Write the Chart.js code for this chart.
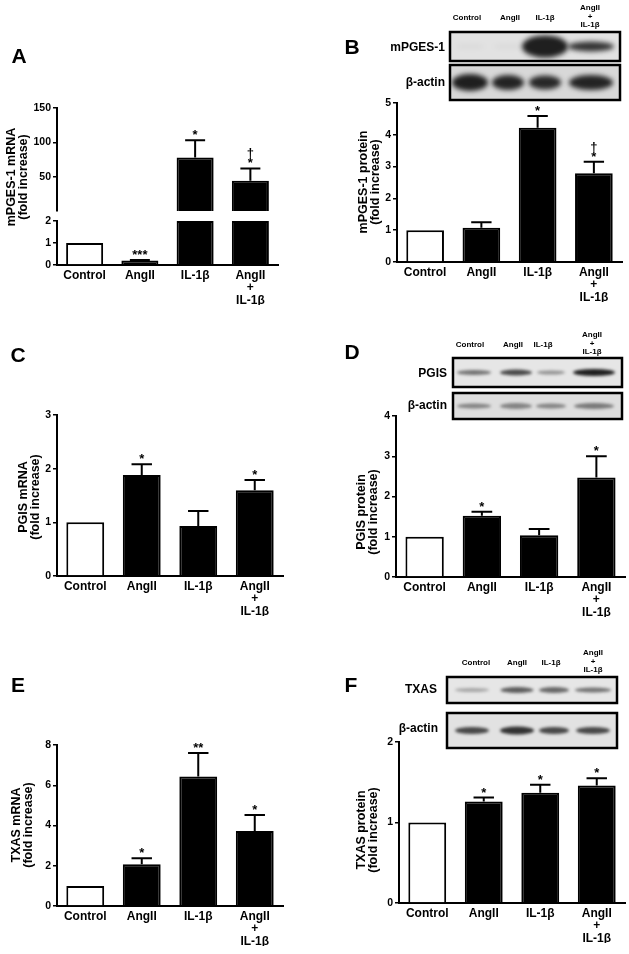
<!DOCTYPE html>
<html>
<head>
<meta charset="utf-8">
<script src="https://cdn.jsdelivr.net/npm/chart.js@4.4.1/dist/chart.umd.min.js"></script>
<style>
body { margin: 0; background: #fff; }
#fig { position: relative; width: 629px; height: 954px; font-family: "Liberation Sans", Arial, sans-serif; font-weight: bold; color: #000; }
#fig canvas { position: absolute; left: 0; top: 0; }
.t { position: absolute; white-space: nowrap; line-height: 1; }
</style>
</head>
<body>
<div id="fig">
  <canvas id="cA1" width="629" height="954"></canvas>
  <canvas id="cA2" width="629" height="954"></canvas>
  <canvas id="cB" width="629" height="954"></canvas>
  <canvas id="cC" width="629" height="954"></canvas>
  <canvas id="cD" width="629" height="954"></canvas>
  <canvas id="cE" width="629" height="954"></canvas>
  <canvas id="cF" width="629" height="954"></canvas>
  <canvas id="blots" width="629" height="954"></canvas>
</div>
<script>
// groups on the x axis (last one is the combined treatment)
var groups = ['Control', 'AngII', 'IL-1β', ['AngII', '+', 'IL-1β']];

// A: mPGES-1 mRNA (axis broken at 2)
var mpgesMrna = [1, 0.2, 78, 44];
var mpgesMrnaErr = [0, 0.03, 25, 18];
var mpgesMrnaSig = ['', '***', '*', '†\n*'];
// B: mPGES-1 protein
var mpgesProtein = [1, 1.08, 4.22, 2.79];
var mpgesProteinErr = [0, 0.17, 0.37, 0.36];
var mpgesProteinSig = ['', '', '*', '†\n*'];
// C: PGIS mRNA
var pgisMrna = [1, 1.88, 0.93, 1.6];
var pgisMrnaErr = [0, 0.2, 0.28, 0.19];
var pgisMrnaSig = ['', '*', '', '*'];
// D: PGIS protein
var pgisProtein = [1, 1.52, 1.04, 2.47];
var pgisProteinErr = [0, 0.1, 0.15, 0.53];
var pgisProteinSig = ['', '*', '', '*'];
// E: TXAS mRNA
var txasMrna = [1, 2.07, 6.43, 3.73];
var txasMrnaErr = [0, 0.3, 1.17, 0.79];
var txasMrnaSig = ['', '*', '**', '*'];
// F: TXAS protein
var txasProtein = [1, 1.26, 1.37, 1.46];
var txasProteinErr = [0, 0.05, 0.1, 0.09];
var txasProteinSig = ['', '*', '*', '*'];

// y tick labels
var breakAt = 2;
var ticksMpgesMrnaHigh = [50, 100, 150];
var ticksMpgesMrnaLow = [0, 1, 2];
var ticksMpgesProtein = [0, 1, 2, 3, 4, 5];
var ticksPgisMrna = [0, 1, 2, 3];
var ticksPgisProtein = [0, 1, 2, 3, 4];
var ticksTxasMrna = [0, 2, 4, 6, 8];
var ticksTxasProtein = [0, 1, 2];

var FONT = '"Liberation Sans", Arial, sans-serif';
Chart.defaults.font.family = FONT;
Chart.defaults.color = '#000';

// one-sided error bars + significance marks above them
var errorBars = {
  id: 'errorBars',
  afterDatasetsDraw: function (chart) {
    var ctx = chart.ctx;
    chart.data.datasets.forEach(function (ds, i) {
      var meta = chart.getDatasetMeta(i);
      var y = chart.scales[meta.yAxisID];
      meta.data.forEach(function (bar, j) {
        var v = ds.data[j];
        if (v == null) return;
        var err = ds.errors[j] || 0;
        var yTop = y.getPixelForValue(v + err);
        ctx.save();
        ctx.strokeStyle = '#000';
        ctx.lineWidth = 2;
        if (err) {
          var half = bar.width * 0.27;
          ctx.beginPath();
          ctx.moveTo(bar.x, bar.y);
          ctx.lineTo(bar.x, yTop);
          ctx.moveTo(bar.x - half, yTop);
          ctx.lineTo(bar.x + half, yTop);
          ctx.stroke();
        }
        var lines = (ds.marks[j] || '').split('\n').filter(function (s) { return s; }).reverse();
        ctx.fillStyle = '#000';
        ctx.font = 'bold 13px ' + FONT;
        ctx.textAlign = 'center';
        ctx.textBaseline = 'alphabetic';
        lines.forEach(function (s, k) {
          ctx.fillText(s, bar.x, yTop - 1 - k * 10);
        });
        ctx.restore();
      });
    });
  }
};

// rotated two-line y title
var sideTitle = {
  id: 'sideTitle',
  afterDraw: function (chart, args, opts) {
    if (!opts.lines) return;
    var ctx = chart.ctx;
    ctx.save();
    ctx.translate(opts.x, opts.y);
    ctx.rotate(-Math.PI / 2);
    ctx.font = 'bold 12.5px ' + FONT;
    ctx.fillStyle = '#000';
    ctx.textAlign = 'center';
    ctx.textBaseline = 'middle';
    opts.lines.forEach(function (s, k) {
      ctx.fillText(s, 0, k * 12);
    });
    ctx.restore();
  }
};

var fills = ['#ffffff', '#000000', '#000000', '#000000'];

function barPanel(id, box, values, errors, marks, ticks, title, showX) {
  var yWidth = 45, xHeight = 40;
  var bottomPad = 954 - box.bottom - (showX ? xHeight : 0);
  return new Chart(document.getElementById(id), {
    type: 'bar',
    data: {
      labels: groups,
      datasets: [{
        data: values,
        errors: errors,
        marks: marks,
        backgroundColor: fills,
        borderColor: '#000',
        borderWidth: 2,
        barPercentage: 0.67,
        categoryPercentage: 1
      }]
    },
    options: {
      responsive: false,
      animation: false,
      devicePixelRatio: 1,
      events: [],
      layout: { padding: { left: box.left - yWidth, top: box.top, right: 629 - box.right, bottom: bottomPad } },
      plugins: {
        legend: { display: false },
        tooltip: { enabled: false },
        sideTitle: title || {}
      },
      scales: {
        x: {
          display: showX,
          grid: { display: false, drawTicks: false },
          border: { display: true, color: '#000', width: 2 },
          ticks: { color: '#000', font: { size: 12, weight: 'bold', lineHeight: 1.05 }, padding: 4, maxRotation: 0, autoSkip: false },
          afterFit: function (s) { s.height = showX ? xHeight : 0; }
        },
        y: {
          min: ticks[0] > 0 ? 0 : ticks[0],
          max: ticks[ticks.length - 1],
          grid: { display: true, drawOnChartArea: false, drawTicks: true, tickLength: 4, color: '#000', lineWidth: 1.5 },
          border: { display: true, color: '#000', width: 2 },
          ticks: { color: '#000', font: { size: 10.5, weight: 'bold' }, padding: 2 },
          afterBuildTicks: function (s) { s.ticks = ticks.map(function (v) { return { value: v }; }); },
          afterFit: function (s) { s.width = yWidth; }
        }
      }
    },
    plugins: [errorBars, sideTitle]
  });
}

// panel A, split at the axis break
var lowVals = mpgesMrna.map(function (v) { return Math.min(v, breakAt); });
var lowErr = mpgesMrna.map(function (v, i) { return v <= breakAt ? mpgesMrnaErr[i] : 0; });
var lowSig = mpgesMrna.map(function (v, i) { return v <= breakAt ? mpgesMrnaSig[i] : ''; });
var highVals = mpgesMrna.map(function (v) { return v > breakAt ? v : null; });
var highErr = mpgesMrna.map(function (v, i) { return v > breakAt ? mpgesMrnaErr[i] : 0; });
var highSig = mpgesMrna.map(function (v, i) { return v > breakAt ? mpgesMrnaSig[i] : ''; });

barPanel('cA1', { left: 57, top: 108, right: 278, bottom: 211 }, highVals, highErr, highSig, ticksMpgesMrnaHigh, null, false);
barPanel('cA2', { left: 57, top: 221, right: 278, bottom: 265 }, lowVals, lowErr, lowSig, ticksMpgesMrnaLow,
  { lines: ['mPGES-1 mRNA', '(fold increase)'], x: 12, y: 177 }, true);
barPanel('cB', { left: 397, top: 103, right: 622, bottom: 262 }, mpgesProtein, mpgesProteinErr, mpgesProteinSig, ticksMpgesProtein,
  { lines: ['mPGES-1 protein', '(fold increase)'], x: 364, y: 182 }, true);
barPanel('cC', { left: 57, top: 415, right: 283, bottom: 576 }, pgisMrna, pgisMrnaErr, pgisMrnaSig, ticksPgisMrna,
  { lines: ['PGIS mRNA', '(fold increase)'], x: 24, y: 497 }, true);
barPanel('cD', { left: 396, top: 416, right: 625, bottom: 577 }, pgisProtein, pgisProteinErr, pgisProteinSig, ticksPgisProtein,
  { lines: ['PGIS protein', '(fold increase)'], x: 362, y: 512 }, true);
barPanel('cE', { left: 57, top: 745, right: 283, bottom: 906 }, txasMrna, txasMrnaErr, txasMrnaSig, ticksTxasMrna,
  { lines: ['TXAS mRNA', '(fold increase)'], x: 17, y: 825 }, true);
barPanel('cF', { left: 399, top: 742, right: 625, bottom: 903 }, txasProtein, txasProteinErr, txasProteinSig, ticksTxasProtein,
  { lines: ['TXAS protein', '(fold increase)'], x: 362, y: 830 }, true);

// western blot strips (illustration): lanes = band centres, bands = [width, height, darkness]
var blots = [
  { x: 450, y: 32, w: 170, h: 29, bg: '#e2e2e2', blur: 2.5, lanes: [470, 508, 545, 591],
    bands: [[30, 4, 0.04], [30, 4, 0.04], [46, 22, 0.95], [46, 10, 0.85]] },
  { x: 450, y: 65, w: 170, h: 35, bg: '#d8d8d8', blur: 2.5, lanes: [470, 508, 545, 591],
    bands: [[36, 17, 0.95], [32, 15, 0.92], [32, 14, 0.9], [44, 15, 0.92]] },
  { x: 453, y: 358, w: 169, h: 29, bg: '#e6e6e6', blur: 1.8, lanes: [474, 516, 551, 594],
    bands: [[34, 5, 0.55], [32, 6, 0.75], [28, 4, 0.4], [42, 7, 0.95]] },
  { x: 453, y: 393, w: 169, h: 26, bg: '#dedede', blur: 1.8, lanes: [474, 516, 551, 594],
    bands: [[34, 5, 0.45], [32, 6, 0.45], [30, 5, 0.45], [40, 6, 0.5]] },
  { x: 447, y: 677, w: 170, h: 26, bg: '#e6e6e6', blur: 1.8, lanes: [472, 517, 554, 593],
    bands: [[34, 4, 0.3], [33, 6, 0.65], [30, 6, 0.6], [36, 5, 0.55]] },
  { x: 447, y: 713, w: 170, h: 35, bg: '#e2e2e2', blur: 1.8, lanes: [472, 517, 554, 593],
    bands: [[34, 7, 0.75], [34, 8, 0.85], [30, 7, 0.75], [34, 7, 0.75]] }
];

var bctx = document.getElementById('blots').getContext('2d');
blots.forEach(function (b) {
  bctx.save();
  bctx.fillStyle = b.bg;
  bctx.fillRect(b.x, b.y, b.w, b.h);
  bctx.beginPath();
  bctx.rect(b.x, b.y, b.w, b.h);
  bctx.clip();
  bctx.filter = 'blur(' + b.blur + 'px)';
  b.lanes.forEach(function (cx, i) {
    var band = b.bands[i];
    bctx.fillStyle = 'rgba(20,20,20,' + band[2] + ')';
    bctx.beginPath();
    bctx.ellipse(cx, b.y + b.h / 2, band[0] / 2, band[1] / 2, 0, 0, Math.PI * 2);
    bctx.fill();
  });
  bctx.restore();
  bctx.lineWidth = 2.5;
  bctx.strokeStyle = '#000';
  bctx.strokeRect(b.x, b.y, b.w, b.h);
});

// text outside the plots: panel letters, blot labels, lane headers
var fig = document.getElementById('fig');
function addText(txt, x, y, size, align) {
  var d = document.createElement('div');
  d.className = 't';
  d.innerHTML = txt;
  d.style.fontSize = size + 'px';
  d.style.left = x + 'px';
  d.style.top = y + 'px';
  d.style.textAlign = 'center';
  d.style.transform = align === 'right' ? 'translate(-100%,-50%)' : 'translate(-50%,-50%)';
  fig.appendChild(d);
  return d;
}

var letters = [['A', 19, 55], ['B', 352, 46], ['C', 18, 354], ['D', 352, 351], ['E', 18, 684], ['F', 351, 684]];
letters.forEach(function (l) { addText(l[0], l[1], l[2], 21); });

addText('mPGES-1', 445, 47, 12, 'right');
addText('β-actin', 445, 82, 12, 'right');
addText('PGIS', 447, 373, 12, 'right');
addText('β-actin', 447, 405, 12, 'right');
addText('TXAS', 437, 689, 12, 'right');
addText('β-actin', 438, 728, 12, 'right');

function laneHeaders(xs, y) {
  groups.forEach(function (g, i) {
    if (Array.isArray(g)) {
      var d = addText(g.join('<br>'), xs[i], y - 1, 8);
      d.style.lineHeight = '8.5px';
    } else {
      addText(g, xs[i], y, 8);
    }
  });
}
laneHeaders([467, 510, 545, 590], 18);
laneHeaders([470, 513, 543, 592], 345);
laneHeaders([476, 517, 551, 593], 663);
</script>
</body>
</html>
